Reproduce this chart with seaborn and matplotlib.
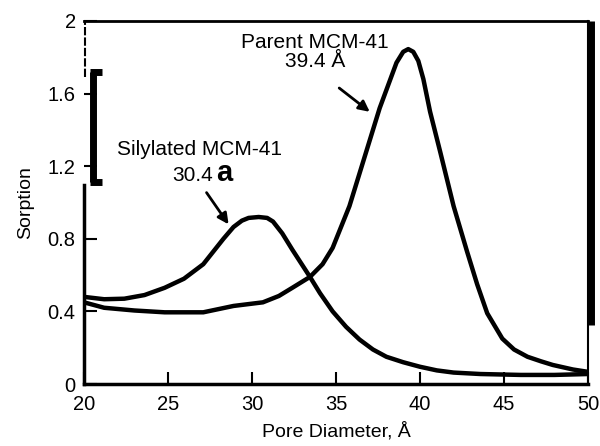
import seaborn as sns
import matplotlib.pyplot as plt
import pandas as pd

sns.set_style("ticks")
plt.rcParams['font.family'] = ['Liberation Sans', 'DejaVu Sans']
plt.rcParams['text.color'] = 'black'
plt.rcParams['axes.labelcolor'] = 'black'

# pore size distributions
x_sil = [20, 21.2, 22.4, 23.6, 24.8, 25.95, 27.1, 28.3, 28.9, 29.4, 29.8, 30.4, 30.9, 31.25, 31.8, 32.4,
         33.45, 34.05, 34.8, 35.6, 36.4, 37.2, 38.0, 39.0, 40.0, 41.0, 42.0, 43.6, 46.0, 48.0, 50.0]
y_sil = [0.48, 0.467, 0.47, 0.49, 0.53, 0.58, 0.66, 0.80, 0.865, 0.9, 0.915, 0.92, 0.915, 0.895, 0.83, 0.74,
         0.59, 0.5, 0.4, 0.315, 0.245, 0.19, 0.15, 0.12, 0.095, 0.075, 0.063, 0.055, 0.05, 0.05, 0.055]

x_par = [20, 21.2, 23.0, 24.8, 27.1, 28.9, 30.65, 31.6, 32.4, 33.45, 34.2, 34.8, 35.8, 36.8, 37.6, 38.2,
         38.6, 39.0, 39.3, 39.6, 39.9, 40.2, 40.6, 41.2, 42.0, 42.8, 43.4, 44.0, 44.9, 45.6, 46.4,
         47.2, 47.9, 49.1, 50.0]
y_par = [0.45, 0.42, 0.405, 0.395, 0.395, 0.43, 0.45, 0.485, 0.53, 0.59, 0.66, 0.75, 0.98, 1.28, 1.52, 1.67,
         1.77, 1.83, 1.845, 1.83, 1.78, 1.68, 1.5, 1.28, 0.98, 0.73, 0.55, 0.39, 0.25, 0.19, 0.15,
         0.125, 0.105, 0.08, 0.067]

df = pd.concat([
    pd.DataFrame({"d": x_sil, "s": y_sil, "sample": "Silylated MCM-41"}),
    pd.DataFrame({"d": x_par, "s": y_par, "sample": "Parent MCM-41"}),
])

fig, ax = plt.subplots(figsize=(6, 4.46), dpi=100)
fig.subplots_adjust(left=0.14, right=0.98, bottom=0.139, top=0.953)

sns.lineplot(data=df, x="d", y="s", hue="sample", palette=["black", "black"],
             linewidth=3.2, legend=False, ax=ax, sort=False)

ax.set_xlim(20, 50)
ax.set_ylim(0, 2)
ax.set_xticks([20, 25, 30, 35, 40, 45, 50])
ax.set_yticks([0, 0.4, 0.8, 1.2, 1.6, 2])
ax.set_yticklabels(["0", "0.4", "0.8", "1.2", "1.6", "2"])
ax.tick_params(direction="in", length=9, width=1.5, labelsize=14.5, colors="black")
ax.tick_params(axis="x", pad=8)
ax.tick_params(axis="y", pad=6)
ax.set_xlabel("Pore Diameter, Å", fontsize=14, labelpad=6)
ax.set_ylabel("Sorption", fontsize=14, labelpad=10)

# frame, imitating the scanned original
for side in ['top', 'bottom', 'right', 'left']:
    ax.spines[side].set_color('black')
ax.spines['top'].set_linewidth(2)
ax.spines['bottom'].set_linewidth(2.5)
ax.spines['right'].set_linewidth(1.5)
ax.spines['left'].set_linewidth(2.5)
ax.spines['left'].set_bounds(0, 1.095)
tr = ax.transAxes
ax.plot([1.006, 1.006], [0.163, 1.0], color="black", lw=5, transform=tr, clip_on=False, solid_capstyle="butt")
ax.plot([0.002, 0.002], [0.846, 1.0], color="black", lw=1.5, ls=(0, (4, 1)), transform=tr, clip_on=False)
ax.plot([0.018, 0.018], [0.556, 0.86], color="black", lw=5, transform=tr, clip_on=False, solid_capstyle="butt")
for yy in (0.556, 0.86):
    ax.plot([0.012, 0.036], [yy, yy], color="black", lw=5, transform=tr, clip_on=False, solid_capstyle="butt")

ax.text(33.75, 1.83, "Parent MCM-41\n39.4 Å", ha="center", va="center", fontsize=15,
        linespacing=1.0)
ax.annotate("", xy=(37.14, 1.49), xytext=(35.06, 1.64),
            arrowprops=dict(arrowstyle="-|>", color="black", lw=2, mutation_scale=16))

ax.text(26.9, 1.29, "Silylated MCM-41", ha="center", va="center", fontsize=15)
ax.text(27.7, 1.15, "30.4", ha="right", va="center", fontsize=15)
ax.text(27.85, 1.16, "a", ha="left", va="center", fontsize=21, fontweight="bold")
ax.annotate("", xy=(28.7, 0.867), xytext=(27.2, 1.067),
            arrowprops=dict(arrowstyle="-|>", color="black", lw=2, mutation_scale=16))

fig.savefig("out.png", dpi=100)
